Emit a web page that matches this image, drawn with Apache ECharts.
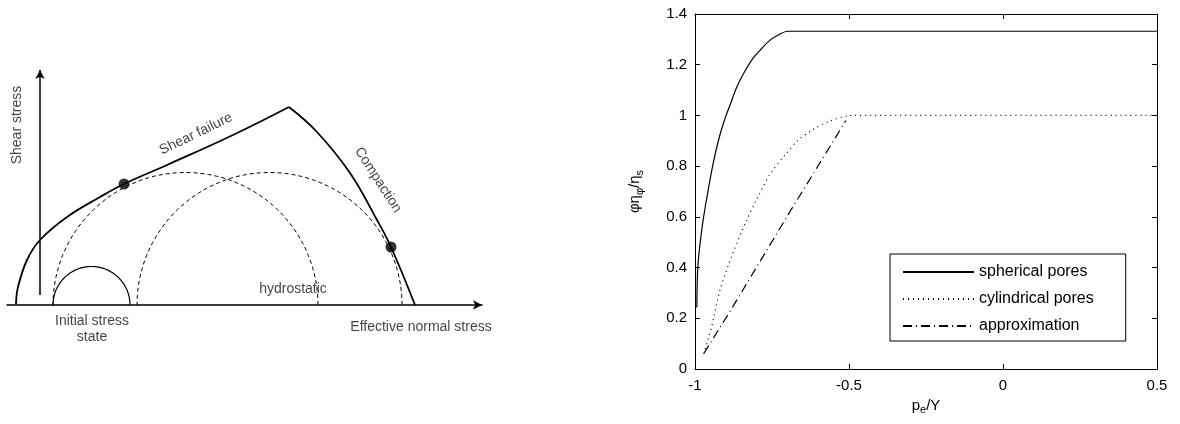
<!DOCTYPE html>
<html>
<head>
<meta charset="utf-8">
<script src="https://cdn.jsdelivr.net/npm/echarts@6/dist/echarts.min.js"></script>
<style>
  html, body { margin: 0; padding: 0; background: #fff; }
  #chart { width: 1180px; height: 424px; }
</style>
</head>
<body>
<div id="chart"></div>
<script>
// ---- left panel: schematic (sigma, tau in arbitrary stress units) ----
const envelope = [[-2.4, 0.1], [-2.2, 1.8], [-1.3, 4.5], [0, 6.5], [2.7, 8.8], [6.0, 10.8],
    [8.4, 12.1], [12.7, 14.0], [19.3, 17.0], [24.9, 19.8]];
const capCurve = [[24.9, 19.8], [27.7, 17.3], [31.0, 13.2], [33.7, 8.5], [35.1, 5.8], [37.5, 0]];
const failurePoints = [[8.4, 12.1], [35.1, 5.8]];
// circles: [centre, radius]
const initialCircle = [5.15, 3.85];
const stressCircles = [[14.55, 13.25], [22.95, 13.25]];
const shearAxis = [[0, 1.0], [0, 23.5]];
// annotations: [sigma, tau, text, rotation]
const notes = [
    [-2.3, 18, 'Shear stress', 90],
    [15.6, 17.1, 'Shear failure', 26],
    [33.8, 12.5, 'Compaction', -57],
    [25.3, 1.6, 'hydrostatic', 0],
    [5.2, -2.4, 'Initial stress\nstate', 0],
    [38.1, -2.2, 'Effective normal stress', 0]
];

// ---- right panel: phi*eta_phi/eta_s vs p_e/Y ----
const sphericalPores = [[-0.994, 0.243], [-0.991, 0.401], [-0.981, 0.52], [-0.972, 0.60],
    [-0.958, 0.70], [-0.942, 0.805], [-0.922, 0.91], [-0.902, 0.99], [-0.885, 1.045],
    [-0.865, 1.11], [-0.840, 1.170], [-0.812, 1.225], [-0.785, 1.262], [-0.756, 1.297],
    [-0.724, 1.321], [-0.699, 1.332], [0.5, 1.332]];
const cylindricalPores = [[-0.972, 0.06], [-0.946, 0.167], [-0.919, 0.311], [-0.877, 0.457],
    [-0.832, 0.588], [-0.800, 0.668], [-0.756, 0.769], [-0.705, 0.848], [-0.667, 0.900],
    [-0.615, 0.946], [-0.564, 0.977], [-0.506, 0.999], [-0.5, 1.0], [0.5, 1.0]];
const approximation = [[-0.971, 0.062], [-0.885, 0.23], [-0.692, 0.62], [-0.51, 0.98]];
const seriesNames = ['spherical pores', 'cylindrical pores', 'approximation'];

const semicircle = (c, r) => {
    const pts = [];
    for (let i = 0; i <= 90; i++) {
        const a = Math.PI * i / 90;
        pts.push([c + r * Math.cos(a), r * Math.sin(a)]);
    }
    return pts;
};

const leftFont = 'Liberation Sans, Arial, sans-serif';
const rightFont = 'Liberation Sans, Arial, sans-serif';

const chart = echarts.init(document.getElementById('chart'));

const boxAxis = {
    axisLine: {show: true, onZero: false, lineStyle: {color: '#000', width: 1}},
    axisTick: {show: true, inside: true, length: 5, lineStyle: {color: '#000'}},
    splitLine: {show: false}
};

const option = {
    animation: false,
    backgroundColor: '#fff',
    grid: [
        {left: 7, top: 55, width: 475, height: 350},
        {left: 695, top: 14, width: 462, height: 355}
    ],
    legend: {
        data: seriesNames,
        orient: 'vertical',
        left: 890,
        top: 254,
        padding: [10, 32, 7, 12],
        itemGap: 11,
        itemWidth: 71,
        itemHeight: 14,
        borderColor: '#000',
        borderWidth: 1,
        itemStyle: {opacity: 0},
        textStyle: {fontFamily: rightFont, fontSize: 16, color: '#000'}
    },
    xAxis: [
        {
            gridIndex: 0, type: 'value', min: -3.3, max: 44.2,
            axisLine: {onZero: true, symbol: ['none', 'arrow'], symbolSize: [7, 9],
                lineStyle: {color: '#000', width: 1.5}},
            axisTick: {show: false}, axisLabel: {show: false}, splitLine: {show: false}
        },
        Object.assign({
            gridIndex: 1, type: 'value', min: -1, max: 0.5, interval: 0.5,
            name: '{a|p}{s|e}{a|/Y}', nameLocation: 'middle', nameGap: 26,
            nameTextStyle: {
                color: '#000',
                rich: {
                    a: {fontFamily: rightFont, fontSize: 15, color: '#000'},
                    s: {fontFamily: rightFont, fontSize: 11, color: '#000', padding: [9, 0, 0, 0]}
                }
            },
            axisLabel: {fontFamily: rightFont, fontSize: 15, color: '#000', margin: 9}
        }, boxAxis),
        Object.assign({
            gridIndex: 1, type: 'value', min: -1, max: 0.5, interval: 0.5, position: 'top',
            axisLabel: {show: false}
        }, boxAxis)
    ],
    yAxis: [
        {gridIndex: 0, type: 'value', min: -10, max: 25, show: false},
        Object.assign({
            gridIndex: 1, type: 'value', min: 0, max: 1.4, interval: 0.2, position: 'left',
            name: '{a|φη}{s|φ}{a|/η}{s|s}', nameLocation: 'middle', nameGap: 50, nameRotate: 90,
            nameTextStyle: {
                color: '#000',
                rich: {
                    a: {fontFamily: rightFont, fontSize: 15, color: '#000'},
                    s: {fontFamily: rightFont, fontSize: 11, color: '#000', padding: [9, 0, 0, 0]}
                }
            },
            axisLabel: {fontFamily: rightFont, fontSize: 15, color: '#000', margin: 8}
        }, boxAxis),
        Object.assign({
            gridIndex: 1, type: 'value', min: 0, max: 1.4, interval: 0.2, position: 'right',
            axisLabel: {show: false}
        }, boxAxis)
    ],
    series: [
        // left schematic
        {
            name: 'envelope', type: 'line', xAxisIndex: 0, yAxisIndex: 0,
            data: envelope, smooth: 0.4, symbol: 'none', silent: true,
            lineStyle: {color: '#000', width: 1.8},
            markLine: {
                silent: true, symbol: ['none', 'arrow'], symbolSize: [7, 9],
                label: {show: false},
                lineStyle: {color: '#000', width: 1.5, type: 'solid'},
                data: [[{coord: shearAxis[0]}, {coord: shearAxis[1]}]]
            }
        },
        {
            name: 'cap', type: 'line', xAxisIndex: 0, yAxisIndex: 0,
            data: capCurve, smooth: 0.4, symbol: 'none', silent: true,
            lineStyle: {color: '#000', width: 1.8}
        },
        {
            name: 'initial', type: 'line', xAxisIndex: 0, yAxisIndex: 0,
            data: semicircle(initialCircle[0], initialCircle[1]), symbol: 'none', silent: true,
            lineStyle: {color: '#000', width: 1.2}
        },
        ...stressCircles.map((c, i) => ({
            name: 'circle' + i, type: 'line', xAxisIndex: 0, yAxisIndex: 0,
            data: semicircle(c[0], c[1]), symbol: 'none', silent: true,
            lineStyle: {color: '#000', width: 1, type: [4, 3]}
        })),
        {
            name: 'dots', type: 'scatter', xAxisIndex: 0, yAxisIndex: 0,
            data: failurePoints, symbolSize: 11, silent: true, z: 5,
            itemStyle: {color: '#000'}
        },
        {
            name: 'notes', type: 'scatter', xAxisIndex: 0, yAxisIndex: 0, silent: true,
            symbolSize: 1, itemStyle: {color: 'rgba(0,0,0,0)'}, z: 6,
            data: notes.map(n => ({
                value: [n[0], n[1]],
                label: {
                    show: true, position: 'inside', rotate: n[3], formatter: n[2],
                    fontFamily: leftFont, fontSize: 14, color: '#111', lineHeight: 16, align: 'center'
                }
            }))
        },
        // right plot
        {
            name: seriesNames[0], type: 'line', xAxisIndex: 1, yAxisIndex: 1,
            data: sphericalPores, smooth: 0.3, symbol: 'none', itemStyle: {color: '#000'},
            lineStyle: {color: '#000', width: 1.2}
        },
        {
            name: seriesNames[1], type: 'line', xAxisIndex: 1, yAxisIndex: 1,
            data: cylindricalPores, smooth: 0.3, symbol: 'none', itemStyle: {color: '#000'},
            lineStyle: {color: '#000', width: 1.2, type: [1, 4]}
        },
        {
            name: seriesNames[2], type: 'line', xAxisIndex: 1, yAxisIndex: 1,
            data: approximation, symbol: 'none', itemStyle: {color: '#000'},
            lineStyle: {color: '#000', width: 1.2, type: [9, 4, 1, 4]}
        }
    ]
};
chart.setOption(option);
window.addEventListener('resize', () => chart.resize());
</script>
</body>
</html>
